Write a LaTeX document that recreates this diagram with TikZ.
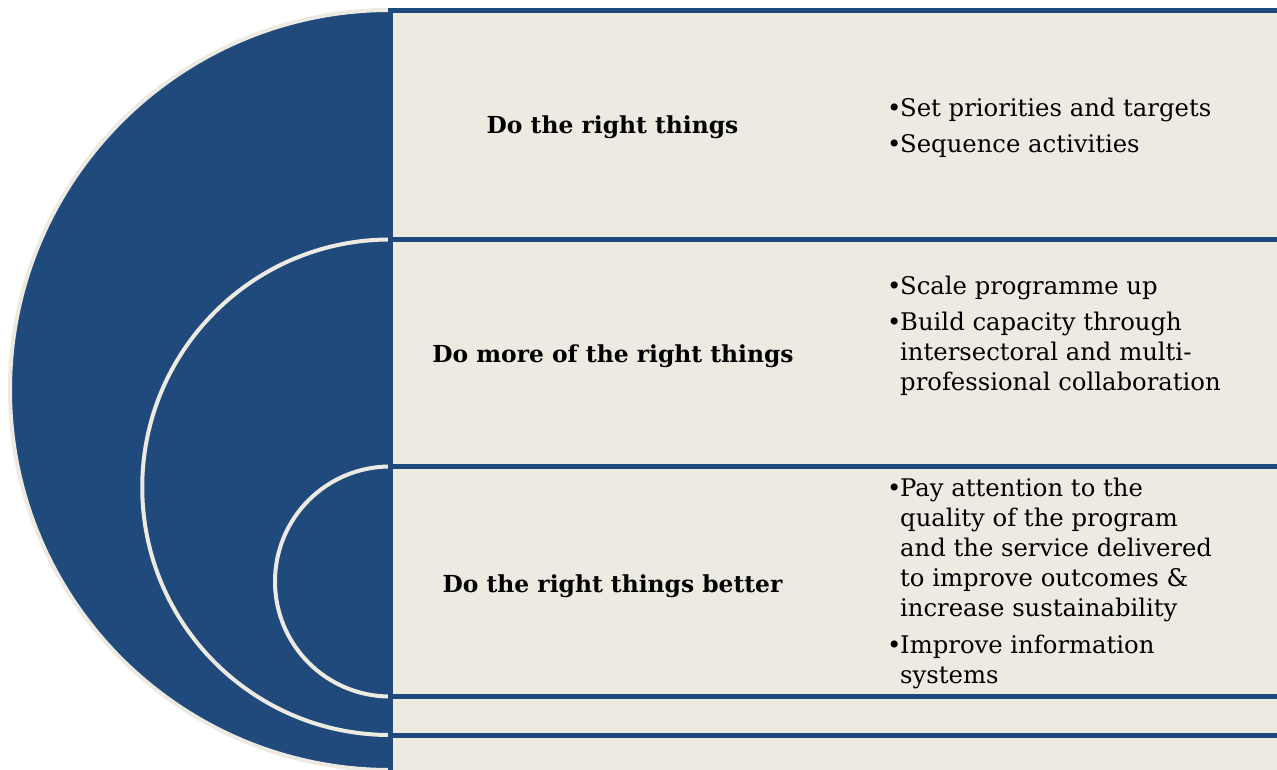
\documentclass[tikz,border=0pt]{standalone}
\usepackage{fontspec}
\setmainfont{DejaVu Serif}
\definecolor{dblue}{HTML}{214A7C}
\definecolor{beige}{HTML}{EDEAE2}
\begin{document}
\begin{tikzpicture}[x=1pt,y=-1pt,
  lbl/.style={font=\fontsize{23.4}{29}\selectfont\bfseries, inner sep=0, anchor=base},
  txt/.style={font=\fontsize{24.3}{29}\selectfont, inner sep=0, anchor=base west},
  bul/.style={font=\fontsize{24.3}{29}\selectfont, inner sep=0, anchor=base west},
  arcline/.style={draw=beige, line width=4pt},
  rowbox/.style={fill=beige, draw=dblue, line width=5pt}]
\useasboundingbox (0,0) rectangle (1277,769);
\fill[white] (0,0) rectangle (1277,769);
\begin{scope}
  \clip (0,0) rectangle (390,769);
  \fill[dblue] (390,390) circle[radius=380pt];
  \draw[arcline] (390,390) circle[radius=380pt];
  \draw[arcline] (390,487.25) circle[radius=247.75pt];
  \draw[arcline] (390,581.5) circle[radius=115pt];
\end{scope}
\draw[rowbox] (390,10) rectangle (1300,239.5);
\draw[rowbox] (390,239.5) rectangle (1300,466.5);
\draw[rowbox] (390,466.5) rectangle (1300,696.5);
\draw[rowbox] (390,696.5) rectangle (1300,735);
\draw[rowbox] (390,735) rectangle (1300,800);
% left labels
\node[lbl] (l1) at (612.5,133) {Do the right things};
\node[lbl] (l2) at (613,362) {Do more of the right things};
\node[lbl] (l3) at (612.5,592) {Do the right things better};
% row 1 bullets
\node[bul] (b11) at (887,116) {•};
\node[txt] (t11) at (900,116) {Set priorities and targets};
\node[bul] (b12) at (887,152) {•};
\node[txt] (t12) at (900,152) {Sequence activities};
% row 2 bullets
\node[bul] (b21) at (887,294) {•};
\node[txt] (t21) at (900,294) {Scale programme up};
\node[bul] (b22) at (887,330) {•};
\node[txt] (t22a) at (900,330) {Build capacity through};
\node[txt] (t22b) at (900,360) {intersectoral and multi-};
\node[txt] (t22c) at (900,390) {professional collaboration};
% row 3 bullets
\node[bul] (b31) at (887,496) {•};
\node[txt] (t31a) at (900,496) {Pay attention to the};
\node[txt] (t31b) at (900,526) {quality of the program};
\node[txt] (t31c) at (900,556) {and the service delivered};
\node[txt] (t31d) at (900,586) {to improve outcomes \&};
\node[txt] (t31e) at (900,616) {increase sustainability};
\node[bul] (b32) at (887,653) {•};
\node[txt] (t32a) at (900,653) {Improve information};
\node[txt] (t32b) at (900,683) {systems};
\end{tikzpicture}
\end{document}
